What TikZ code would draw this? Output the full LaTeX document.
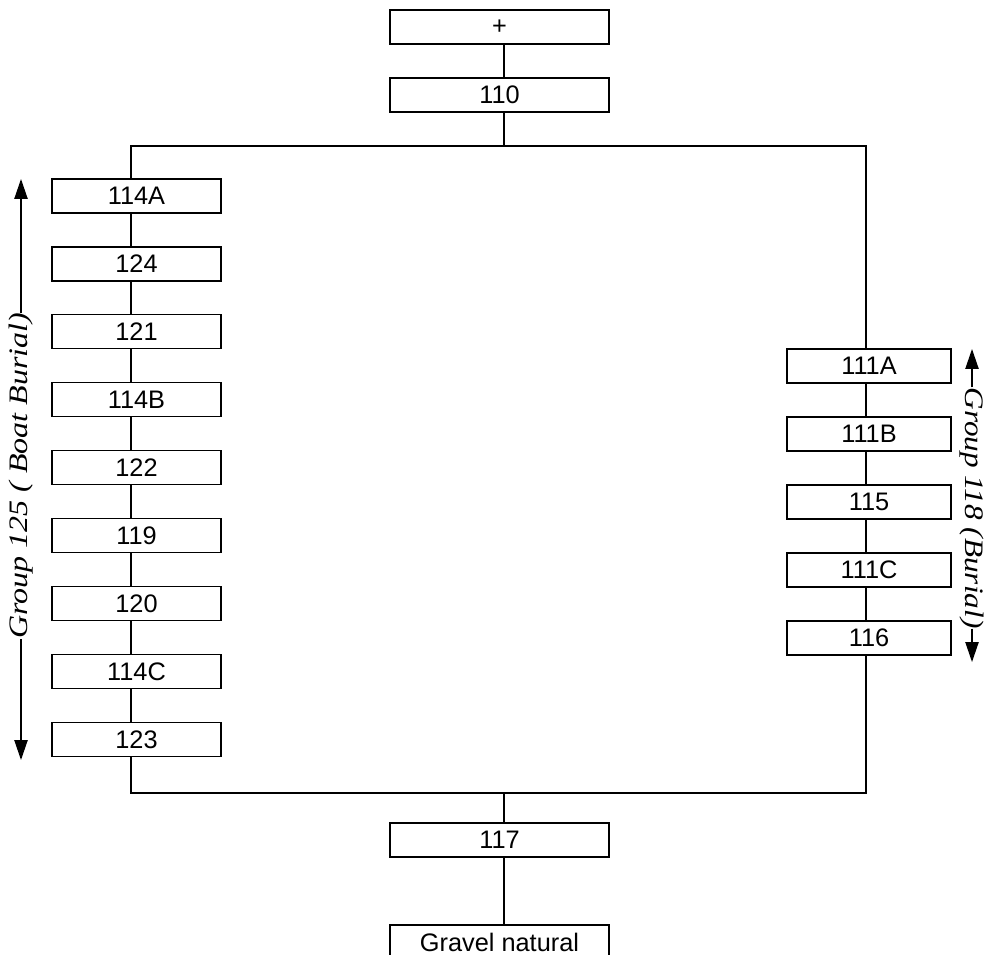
\documentclass[tikz,border=0pt]{standalone}
\usepackage{fontspec}
\setmainfont{Liberation Sans}
\newfontfamily\grpfont{Liberation Serif}
\usetikzlibrary{arrows.meta}
\begin{document}
\begin{tikzpicture}[x=0.75pt,y=-0.75pt,
  unit/.style={draw=black,line width=0.9pt,minimum height=34*0.75pt,inner sep=0pt,
    font=\fontsize{19}{19}\selectfont,fill=white},
  cbox/.style={unit,minimum width=219*0.75pt},
  lbox/.style={unit,minimum width=169*0.75pt},
  rbox/.style={unit,minimum width=164*0.75pt},
  link/.style={line width=1pt},
  grp/.style={inner sep=0pt,font=\grpfont\itshape\fontsize{20}{20}\selectfont},
  grparrow/.style={line width=1pt,-{Triangle[length=15pt,width=10pt]}}]
\useasboundingbox (0,0) rectangle (989,955);
\begin{scope}
\clip (0,0) rectangle (989,955);
% centre column
\node[cbox] (plus) at (499.5,27) {+};
\node[cbox] (n110) at (499.5,95) {110};
\node[cbox] (n117) at (499.5,840) {117};
\node[cbox] (grav) at (499.5,942) {Gravel natural};
% left column
\foreach \t/\n [count=\i from 0] in {114A/a114A,124/a124,121/a121,114B/a114B,122/a122,119/a119,120/a120,114C/a114C,123/a123}{
  \node[lbox] (\n) at (136.5,196+67.94*\i) {\t};
}
% right column
\foreach \t/\n [count=\i from 0] in {111A/b111A,111B/b111B,115/b115,111C/b111C,116/b116}{
  \node[rbox] (\n) at (869,366+68*\i) {\t};
}
\coordinate (L) at (131,146);
\coordinate (R) at (866,146);
\coordinate (C) at (504,146);
\coordinate (Lb) at (131,793);
\coordinate (Rb) at (866,793);
\coordinate (Cb) at (504,793);
% connectors
\draw[link] (plus.south -| C) -- (n110.north -| C);
\draw[link] (n110.south -| C) -- (C);
\draw[link] (a114A.north -| L) -- (L) -- (R) -- (b111A.north -| R);
\foreach \a/\b in {a114A/a124,a124/a121,a121/a114B,a114B/a122,a122/a119,a119/a120,a120/a114C,a114C/a123}{
  \draw[link] (\a.south -| L) -- (\b.north -| L);
}
\foreach \a/\b in {b111A/b111B,b111B/b115,b115/b111C,b111C/b116}{
  \draw[link] (\a.south -| R) -- (\b.north -| R);
}
\draw[link] (a123.south -| L) -- (Lb) -- (Rb) -- (b116.south -| R);
\draw[link] (Cb) -- (n117.north -| C);
\draw[link] (n117.south -| C) -- (grav.north -| C);
% group labels
\node[grp,rotate=90] (grpL) at (21,476) {\scalebox{1.2}[1]{Group 125 ( Boat Burial)}};
\coordinate (tipLt) at (21,179);
\coordinate (tipLb) at (21,760);
\draw[grparrow] (grpL.east) -- (tipLt);
\draw[grparrow] (grpL.west) -- (tipLb);
\node[grp,rotate=-90] (grpR) at (972,508) {\scalebox{1.17}[1]{Group 118 (Burial)}};
\coordinate (tipRt) at (972,349);
\coordinate (tipRb) at (972,662);
\draw[grparrow] (grpR.west) -- (tipRt);
\draw[grparrow] (grpR.east) -- (tipRb);
\end{scope}
\end{tikzpicture}
\end{document}
